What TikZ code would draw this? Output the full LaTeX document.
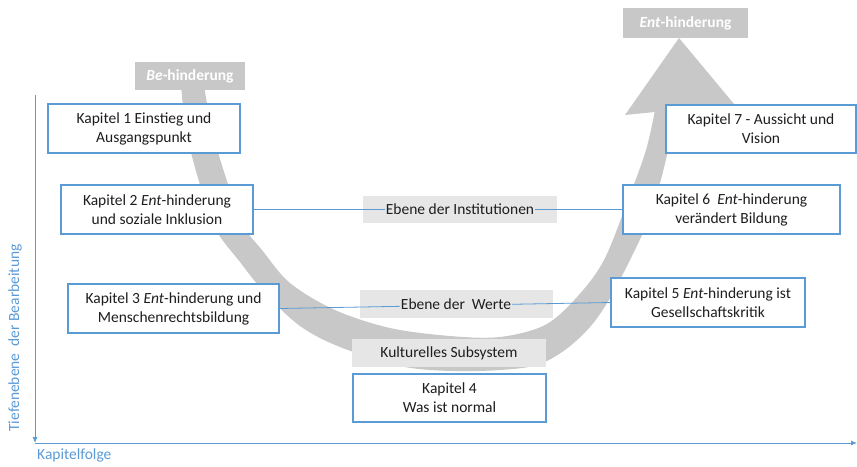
\documentclass[tikz,border=0pt]{standalone}
\usepackage{fontspec}
\setmainfont{Carlito}
\usetikzlibrary{arrows.meta,positioning}
\definecolor{kblue}{RGB}{91,155,213}
\definecolor{bandgray}{RGB}{200,200,200}
\definecolor{levelgray}{RGB}{230,230,230}
\definecolor{ktext}{RGB}{30,30,30}

\begin{document}
\begin{tikzpicture}[x=1pt,y=-1pt,
    font=\fontsize{15.5}{19}\selectfont,
    kapitel/.style={draw=kblue, line width=1.6pt, fill=white, text=ktext, align=center,
        minimum height=49pt, inner sep=0pt},
    toplabel/.style={fill=bandgray, text=white, font=\fontsize{15.5}{19}\selectfont\bfseries,
        inner sep=0pt},
    levellabel/.style={fill=levelgray, text=ktext, inner sep=1pt},
    link/.style={draw=kblue, line width=0.8pt},
    axis/.style={draw=kblue, line width=0.8pt, -{Latex[length=6pt,width=5pt]}},
    axislabel/.style={text=kblue, inner sep=0pt}]
    \useasboundingbox (0,0) rectangle (857,466);

    % grosser Bogen
    \fill[bandgray] plot[smooth, tension=0.55] coordinates {(181,85) (186,130) (198,178) (215,228)
        (240,262) (265,293) (300,326) (340,347) (400,366) (450,371) (500,370) (537,365) (565,350)
        (590,327) (609,300) (627,266) (645,228) (658,190) (668,150) (674,110)}
        -- plot[smooth, tension=0.55] coordinates {(655,110) (646,150) (628,200) (604,260) (577,297)
        (545,325) (500,337) (450,336) (390,328) (335,310) (290,283) (262,250) (243,225) (226,178)
        (212,130) (204,85)} -- cycle;
    \fill[bandgray] (679,38) -- (625,115) -- (734,104) -- cycle;

    % Achsen
    \coordinate (ytop) at (35,95);
    \coordinate (origin) at (35,443);
    \coordinate (xend) at (857,443);
    \draw[axis] (ytop) -- (origin);
    \draw[axis] (origin) -- (xend);
    \node[axislabel, anchor=north west] (xlabel) at (37,449) {Kapitelfolge};
    \node[axislabel, rotate=90] (ylabel) at (15,338) {Tiefenebene\ \ der Bearbeitung};

    % Kapitel
    \node[kapitel, minimum width=192pt] (k1) at (144,128.5) {Kapitel 1 Einstieg und\\Ausgangspunkt};
    \node[kapitel, minimum width=192pt] (k2) at (157,209.5) {Kapitel 2 \textit{Ent}-hinderung\\und soziale Inklusion};
    \node[kapitel, minimum width=211pt] (k3) at (173.5,308.5) {Kapitel 3 \textit{Ent}-hinderung und\\Menschenrechtsbildung};
    \node[kapitel, minimum width=193pt, minimum height=48pt] (k4) at (449.5,398) {Kapitel 4\\Was ist normal};
    \node[kapitel, minimum width=194pt] (k5) at (708,302.5) {Kapitel 5 \textit{Ent}-hinderung ist\\Gesellschaftskritik};
    \node[kapitel, minimum width=217pt] (k6) at (731.5,209.5) {Kapitel 6\ \ \textit{Ent}-hinderung\\verändert Bildung};
    \node[kapitel, minimum width=190pt, minimum height=48pt] (k7) at (761,129) {Kapitel 7 - Aussicht und\\Vision};

    % Ebenen
    \fill[levelgray] (363,196) rectangle (557,223);
    \fill[levelgray] (360,290) rectangle (553,318);
    \draw[link] (k2.east) -- (k6.west);
    \draw[link] (k3.east) -- (k5.west);
    \node[levellabel] (inst) at (460,209.5) {Ebene der Institutionen};
    \node[levellabel] (werte) at (456,304.5) {Ebene der\ \ Werte};
    \node[levellabel, minimum width=194pt, minimum height=28pt] (kultur) at (449,353) {Kulturelles Subsystem};

    % Beschriftung oben
    \node[toplabel, minimum width=110pt, minimum height=28pt] (behind) at (190,76) {\textit{Be}-hinderung};
    \node[toplabel, minimum width=125pt, minimum height=30pt] (enthind) at (685.5,23) {\textit{Ent}-hinderung};
\end{tikzpicture}
\end{document}
